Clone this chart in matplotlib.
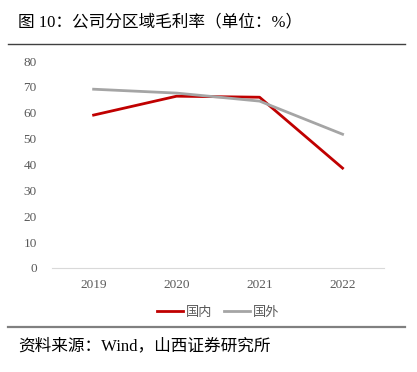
import matplotlib
matplotlib.use("Agg")
import matplotlib.pyplot as plt
from matplotlib.lines import Line2D

plt.rcParams['font.family'] = ['Liberation Serif', 'Noto Sans CJK SC', 'DejaVu Sans']

years = ["2019", "2020", "2021", "2022"]
domestic = [59.1, 66.4, 66.0, 38.6]
overseas = [69.1, 67.6, 64.5, 51.7]
yticks = [0, 10, 20, 30, 40, 50, 60, 70, 80]

fig = plt.figure(figsize=(4.17, 3.72), dpi=100)
ax = fig.add_axes([0.125, 0.2796, 0.796, 0.5564])

x = range(len(years))
ax.plot(x, domestic, color="#C00000", lw=2.0, label="国内")
ax.plot(x, overseas, color="#A5A5A5", lw=2.0, label="国外")

ax.set_xlim(-0.5, len(years) - 0.5)
ax.set_ylim(0, 80)
ax.set_yticks(yticks)
ax.set_xticks(list(x))
ax.set_xticklabels(years)
for s in ["top", "right", "left"]:
    ax.spines[s].set_visible(False)
ax.spines["bottom"].set_color("#D9D9D9")
ax.tick_params(length=0, colors="#595959", labelsize=9.5)
ax.tick_params(axis="y", pad=11)
ax.tick_params(axis="x", pad=8)

leg = ax.legend(loc="upper center", bbox_to_anchor=(0.5, -0.13), ncol=2,
                frameon=False, fontsize=9.5, handlelength=2.0, handletextpad=0.2,
                columnspacing=0.9)
for t in leg.get_texts():
    t.set_color("#595959")

fig.text(0.043, 0.94, "图 10：公司分区域毛利率（单位：%）", fontsize=12,
         va="center", ha="left", color="black")
fig.add_artist(Line2D([0.02, 0.972], [0.882, 0.882], color="#404040", lw=1.0))
fig.add_artist(Line2D([0.02, 0.972], [0.121, 0.121], color="#808080", lw=1.6))
fig.text(0.043, 0.07, "资料来源：Wind，山西证券研究所", fontsize=12,
         va="center", ha="left", color="black")

fig.savefig("out.png", dpi=100)
